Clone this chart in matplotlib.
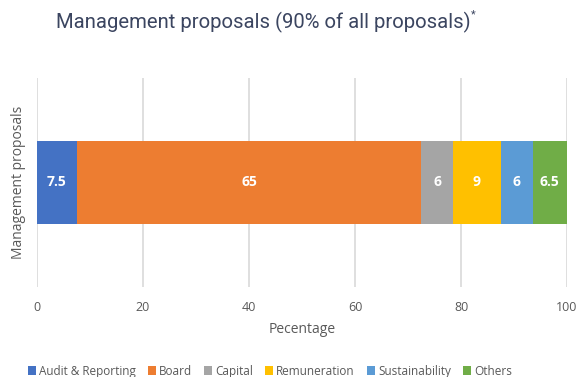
import matplotlib.pyplot as plt

categories = ["Audit & Reporting", "Board", "Capital", "Remuneration", "Sustainability", "Others"]
values = [7.5, 65, 6, 9, 6, 6.5]
value_labels = ["7.5", "65", "6", "9", "6", "6.5"]
colors = ["#4472C4", "#ED7D31", "#A5A5A5", "#FFC000", "#5B9BD5", "#70AD47"]
row = "Management proposals"
x_ticks = [0, 20, 40, 60, 80, 100]

fig = plt.figure(figsize=(5.78, 3.77), dpi=100)
ax = fig.add_axes([0.064, 0.239, 0.917, 0.554])

left = 0
for cat, v, lab, c in zip(categories, values, value_labels, colors):
    ax.barh(0, v, left=left, height=0.4, color=c, label=cat, zorder=3)
    ax.text(left + v / 2, 0, lab, ha="center", va="center", color="white",
            fontsize=10, fontweight="bold", family="Open Sans", zorder=4)
    left += v

ax.set_xlim(0, 100)
ax.set_ylim(-0.5, 0.5)
ax.set_xticks(x_ticks)
ax.set_xticklabels([str(t) for t in x_ticks], fontsize=9, color="#595959", family="Open Sans")
ax.set_yticks([])
ax.tick_params(axis="x", length=0, pad=10)
ax.grid(axis="x", color="#D9D9D9", linewidth=1.2, zorder=0)
for s in ax.spines.values():
    s.set_visible(False)

ax.set_xlabel("Pecentage", fontsize=10, color="#595959", family="Open Sans", labelpad=6)
ax.set_ylabel(row, fontsize=10, color="#595959", family="Open Sans", labelpad=8)

fig.text(0.455, 0.94, "Management proposals (90% of all proposals)", ha="center", va="center",
         fontsize=14.6, color="#3B4560", family="Roboto")
fig.text(0.814, 0.962, "*", ha="left", va="center", fontsize=8, color="#3B4560", family="Roboto")

fig.legend(loc="lower center", bbox_to_anchor=(0.467, -0.03), ncol=6, frameon=False,
           handlelength=0.7, handleheight=0.7, handletextpad=0.25, columnspacing=1.0,
           prop={"family": "Open Sans", "size": 8.5}, labelcolor="#595959")

fig.savefig("out.png", dpi=100)
